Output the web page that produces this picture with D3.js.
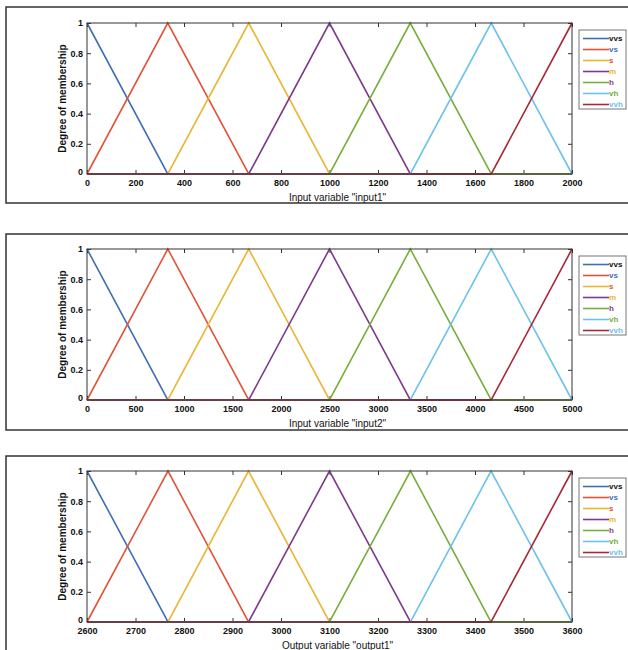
<!DOCTYPE html>
<html lang="en">
<head>
	<meta charset="UTF-8">
	<title>Membership functions</title>
	<style type="text/css">
		body { margin: 0; background: #fff; }
		svg text { font-family: "Liberation Sans", Arial, sans-serif; }
	</style>
</head>
<body>
	<script type="text/javascript" src="https://cdn.jsdelivr.net/npm/d3@7/dist/d3.min.js"></script>
	<script type="text/javascript">
		// membership function names and colours
		var names = ['vvs', 'vs', 's', 'm', 'h', 'vh', 'vvh'];
		var colors = ['#3f6fb5', '#e0553a', '#eab531', '#7e3a8c', '#7aad3c', '#6bc3ea', '#a8283a'];
		// legend text colours (shifted by one in the original figure)
		var legendTextColors = ['#111', '#3f6fb5', '#e0553a', '#eab531', '#7e3a8c', '#7aad3c', '#6bc3ea'];

		// triangle peaks of each variable
		var input1Peaks = [0, 333, 667, 1000, 1333, 1667, 2000];
		var input2Peaks = [0, 833, 1667, 2500, 3333, 4167, 5000];
		var output1Peaks = [2600, 2767, 2933, 3100, 3267, 3433, 3600];

		var input1Ticks = [0, 200, 400, 600, 800, 1000, 1200, 1400, 1600, 1800, 2000];
		var input2Ticks = [0, 500, 1000, 1500, 2000, 2500, 3000, 3500, 4000, 4500, 5000];
		var output1Ticks = [2600, 2700, 2800, 2900, 3000, 3100, 3200, 3300, 3400, 3500, 3600];
		var yTicks = [0, 0.2, 0.4, 0.6, 0.8, 1];

		var panels = [
			{peaks: input1Peaks, ticks: input1Ticks, label: 'Input variable "input1"', top: 7, frameH: 196},
			{peaks: input2Peaks, ticks: input2Ticks, label: 'Input variable "input2"', top: 234, frameH: 196},
			{peaks: output1Peaks, ticks: output1Ticks, label: 'Output variable "output1"', top: 456, frameH: 220}
		];

		var W = 628, H = 650;
		var plotL = 87, plotR = 572, plotH = 151;

		var svg = d3.select('body')
					.append('svg')
					.attr('width', W)
					.attr('height', H);

		panels.forEach(function (p, pi) {
			var g = svg.append('g');

			// outer frame
			g.append('rect')
				.attr('x', 6)
				.attr('y', p.top)
				.attr('width', 640)
				.attr('height', p.frameH)
				.attr('fill', 'none')
				.attr('stroke', '#333')
				.attr('stroke-width', 1.5);

			var plotT = p.top + (pi == 0 ? 16 : 15);
			var x = d3.scaleLinear()
					.domain([p.peaks[0], p.peaks[p.peaks.length - 1]])
					.range([plotL, plotR]);
			var y = d3.scaleLinear()
					.domain([0, 1])
					.range([plotT + plotH, plotT]);

			// axes
			var xAxis = d3.axisBottom(x).tickValues(p.ticks).tickSizeInner(-4).tickSizeOuter(0).tickPadding(6)
					.tickFormat(d3.format('d'));
			var xTop = d3.axisTop(x).tickValues(p.ticks).tickSizeInner(-4).tickSizeOuter(0).tickFormat('');
			var yAxis = d3.axisLeft(y).tickValues(yTicks).tickSizeInner(-4).tickSizeOuter(0).tickPadding(4)
					.tickFormat(d3.format('~g'));
			var yRight = d3.axisRight(y).tickValues(yTicks).tickSizeInner(-4).tickSizeOuter(0).tickFormat('');

			var axes = [
				g.append('g').attr('transform', 'translate(0,' + (plotT + plotH) + ')').call(xAxis),
				g.append('g').attr('transform', 'translate(0,' + plotT + ')').call(xTop),
				g.append('g').attr('transform', 'translate(' + plotL + ',0)').call(yAxis),
				g.append('g').attr('transform', 'translate(' + plotR + ',0)').call(yRight)
			];
			axes.forEach(function (a) {
				a.select('.domain').remove();
				a.selectAll('line').attr('stroke', '#333').attr('stroke-width', 1);
				a.selectAll('text')
					.attr('fill', '#111')
					.attr('font-size', '9px')
					.attr('font-weight', 'bold');
			});
			// lift the "0" of the y axis a little so it clears the x labels
			axes[2].selectAll('text').filter(function (d) { return d === 0; }).attr('dy', '0.1em');

			// membership lines
			var xmin = p.peaks[0], xmax = p.peaks[p.peaks.length - 1];
			var line = d3.line()
					.x(function (d) { return x(d[0]); })
					.y(function (d) { return y(d[1]); });

			p.peaks.forEach(function (pk, i) {
				var a = i > 0 ? p.peaks[i - 1] : pk;
				var c = i < p.peaks.length - 1 ? p.peaks[i + 1] : pk;
				var pts = [];
				if (a > xmin) pts.push([xmin, 0]);
				pts.push([a, a < pk ? 0 : 1]);
				pts.push([pk, 1]);
				pts.push([c, c > pk ? 0 : 1]);
				if (c < xmax) pts.push([xmax, 0]);
				g.append('path')
					.datum(pts)
					.attr('d', line)
					.attr('fill', 'none')
					.attr('stroke', colors[i])
					.attr('stroke-width', 1.6);
			});

			// plot box
			g.append('rect')
				.attr('x', plotL)
				.attr('y', plotT)
				.attr('width', plotR - plotL)
				.attr('height', plotH)
				.attr('fill', 'none')
				.attr('stroke', '#333')
				.attr('stroke-width', 1);

			// axis labels
			g.append('text')
				.attr('x', (plotL + plotR) / 2 + 8)
				.attr('y', plotT + plotH + 27)
				.attr('text-anchor', 'middle')
				.attr('font-size', '10px')
				.attr('fill', '#111')
				.text(p.label);

			g.append('text')
				.attr('transform', 'translate(66,' + (plotT + plotH / 2) + ') rotate(-90)')
				.attr('text-anchor', 'middle')
				.attr('font-size', '10px')
				.attr('font-weight', 'bold')
				.attr('fill', '#111')
				.text('Degree of membership');

			// legend
			var lgTop = plotT + 7;
			var lg = g.append('g').attr('transform', 'translate(579,' + lgTop + ')');
			lg.append('rect')
				.attr('width', 47)
				.attr('height', 79)
				.attr('fill', '#fff')
				.attr('stroke', '#777')
				.attr('stroke-width', 1);
			var items = lg.selectAll('g.item')
					.data(names)
					.enter()
					.append('g')
					.attr('class', 'item')
					.attr('transform', function (d, i) { return 'translate(0,' + (8.5 + i * 11) + ')'; });
			items.append('line')
				.attr('x1', 4)
				.attr('x2', 30)
				.attr('stroke', function (d, i) { return colors[i]; })
				.attr('stroke-width', 1.6);
			items.append('text')
				.attr('x', 30)
				.attr('dy', '0.35em')
				.attr('font-size', '8px')
				.attr('font-weight', 'bold')
				.attr('fill', function (d, i) { return legendTextColors[i]; })
				.text(function (d) { return d; });
		});
	</script>
</body>
</html>
